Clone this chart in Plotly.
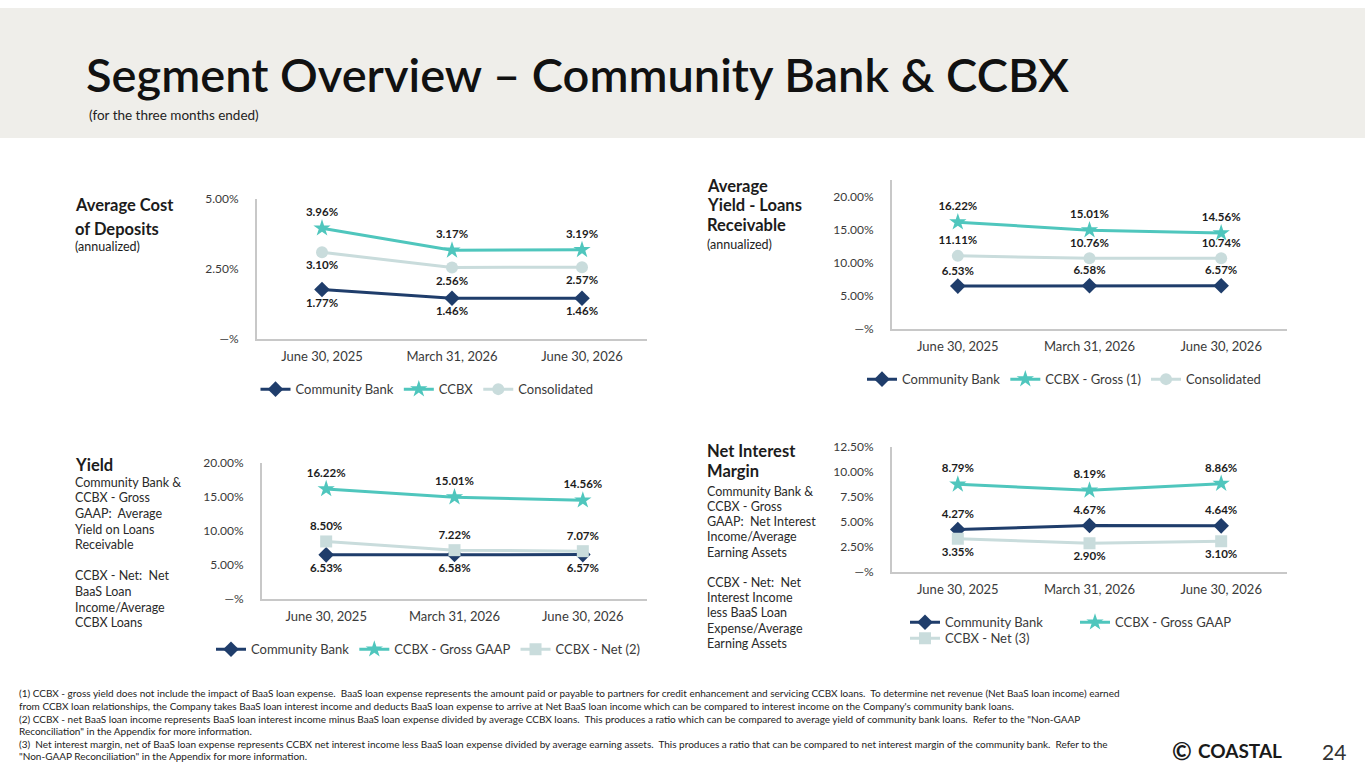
import plotly.graph_objects as go

W, H = 1365, 768
# the photographed page comes out shifted 8px down and squeezed to 98% in height;
# layout positions below are written in picture pixels and mapped back here
TOP, SQUEEZE = 8, 0.98

# ---- data ----
periods = ["June 30, 2025", "March 31, 2026", "June 30, 2026"]

cost_cb = [1.77, 1.46, 1.46]
cost_ccbx = [3.96, 3.17, 3.19]
cost_cons = [3.10, 2.56, 2.57]

loan_cb = [6.53, 6.58, 6.57]
loan_ccbx_gross = [16.22, 15.01, 14.56]
loan_cons = [11.11, 10.76, 10.74]

yield_cb = [6.53, 6.58, 6.57]
yield_ccbx_gross = [16.22, 15.01, 14.56]
yield_ccbx_net = [8.50, 7.22, 7.07]

nim_cb = [4.27, 4.67, 4.64]
nim_ccbx_gross = [8.79, 8.19, 8.86]
nim_ccbx_net = [3.35, 2.90, 3.10]

ticks_cost = [0, 2.5, 5]
ticktext_cost = ["—%", "2.50%", "5.00%"]
ticks_20 = [0, 5, 10, 15, 20]
ticktext_20 = ["—%", "5.00%", "10.00%", "15.00%", "20.00%"]
ticks_nim = [0, 2.5, 5, 7.5, 10, 12.5]
ticktext_nim = ["—%", "2.50%", "5.00%", "7.50%", "10.00%", "12.50%"]

footnotes = [
    "(1) CCBX - gross yield does not include the impact of BaaS loan expense.  BaaS loan expense represents the amount paid or payable to partners for credit enhancement and servicing CCBX loans.  To determine net revenue (Net BaaS loan income) earned",
    "from CCBX loan relationships, the Company takes BaaS loan interest income and deducts BaaS loan expense to arrive at Net BaaS loan income which can be compared to interest income on the Company's community bank loans.",
    "(2) CCBX - net BaaS loan income represents BaaS loan interest income minus BaaS loan expense divided by average CCBX loans.  This produces a ratio which can be compared to average yield of community bank loans.  Refer to the \"Non-GAAP",
    "Reconciliation\" in the Appendix for more information.",
    "(3)  Net interest margin, net of BaaS loan expense represents CCBX net interest income less BaaS loan expense divided by average earning assets.  This produces a ratio that can be compared to net interest margin of the community bank.  Refer to the",
    "\"Non-GAAP Reconciliation\" in the Appendix for more information.",
]

# ---- style ----
FONT = "Lato"
NAVY = "#1f3d6b"
TEAL = "#4fc6bd"
PALE = "#c9dcdc"
AXIS = "#c8c8c8"
TXT = "#1c1c1c"
BAND = "#efeeea"


def px(x):
    return x / W


def py(y):
    return 1 - ((y - TOP) / SQUEEZE) / H


fig = go.Figure()


def add_series(n, name, values, color, symbol, pos, legend):
    fig.add_trace(go.Scatter(
        x=periods, y=values, name=name,
        xaxis="x" if n == 1 else f"x{n}", yaxis="y" if n == 1 else f"y{n}",
        mode="lines+markers+text",
        line=dict(color=color, width=3),
        marker=dict(color=color, symbol=symbol, size=12 if symbol != "star" else 13),
        texttemplate="<b>%{y:.2f}%</b>", textposition=pos,
        textfont=dict(family=FONT, size=11.5, color=TXT),
        legend=legend, cliponaxis=False, hoverinfo="skip",
    ))


def set_axes(n, xdom, ydom, yrange, tickvals, ticktext):
    sfx = "" if n == 1 else str(n)
    fig.update_layout({
        f"xaxis{sfx}": dict(
            domain=[px(xdom[0]), px(xdom[1])], anchor=f"y{sfx}",
            type="category", range=[-0.5, 2.5],
            showline=True, linecolor=AXIS, linewidth=2, showgrid=False,
            ticks="outside", ticklen=4, tickcolor="rgba(0,0,0,0)",
            tickfont=dict(family=FONT, size=13, color="#3a3a3a"),
            fixedrange=True,
        ),
        f"yaxis{sfx}": dict(
            domain=[py(ydom[0]), py(ydom[1])], anchor=f"x{sfx}",
            range=yrange, tickvals=tickvals, ticktext=ticktext,
            showline=True, linecolor=AXIS, linewidth=2, showgrid=False,
            zeroline=False,
            ticks="outside", ticklen=14, tickcolor="rgba(0,0,0,0)",
            tickfont=dict(family=FONT, size=12, color="#3a3a3a"),
            fixedrange=True,
        ),
    })


# panel 1: average cost of deposits
set_axes(1, (257, 647), (339, 199), [0, 5], ticks_cost, ticktext_cost)
add_series(1, "Community Bank", cost_cb, NAVY, "diamond", "bottom center", "legend")
add_series(1, "CCBX", cost_ccbx, TEAL, "star", "top center", "legend")
add_series(1, "Consolidated", cost_cons, PALE, "circle", "bottom center", "legend")

# panel 2: average yield - loans receivable
set_axes(2, (892, 1287), (329, 180), [0, 22.6], ticks_20, ticktext_20)
add_series(2, "Community Bank", loan_cb, NAVY, "diamond", "top center", "legend2")
add_series(2, "CCBX - Gross (1)", loan_ccbx_gross, TEAL, "star", "top center", "legend2")
add_series(2, "Consolidated", loan_cons, PALE, "circle", "top center", "legend2")

# panel 3: yield
set_axes(3, (262, 647), (599, 463), [0, 20], ticks_20, ticktext_20)
add_series(3, "Community Bank", yield_cb, NAVY, "diamond", "bottom center", "legend3")
add_series(3, "CCBX - Gross GAAP", yield_ccbx_gross, TEAL, "star", "top center", "legend3")
add_series(3, "CCBX - Net (2)", yield_ccbx_net, PALE, "square", "top center", "legend3")

# panel 4: net interest margin
set_axes(4, (892, 1287), (572, 447), [0, 12.5], ticks_nim, ticktext_nim)
add_series(4, "Community Bank", nim_cb, NAVY, "diamond", "top center", "legend4")
add_series(4, "CCBX - Gross GAAP", nim_ccbx_gross, TEAL, "star", "top center", "legend4")
add_series(4, "CCBX - Net (3)", nim_ccbx_net, PALE, "square", "bottom center", "legend5")


def legend_box(x, y, xanchor="center", **kw):
    d = dict(orientation="h", x=px(x), y=py(y), xanchor=xanchor, yanchor="middle",
             font=dict(family=FONT, size=13, color="#3a3a3a"),
             bgcolor="rgba(0,0,0,0)", itemclick=False,
             itemdoubleclick=False, tracegroupgap=0)
    d.update(kw)
    return d


fig.update_layout(
    legend=legend_box(427, 389),
    legend2=legend_box(1064, 379),
    legend3=legend_box(428, 649),
    legend4=legend_box(905, 622, xanchor="left", entrywidth=125),
    legend5=legend_box(905, 638, xanchor="left"),
)

# ---- header band & texts ----
shapes = [dict(type="rect", xref="paper", yref="paper", x0=0, x1=1,
               y0=py(138), y1=1, fillcolor=BAND, line=dict(width=0), layer="below")]

ann = []


def text(x, y, s, size, color=TXT, weight="normal", xanchor="left", yanchor="middle"):
    ann.append(dict(xref="paper", yref="paper", x=px(x), y=py(y), text=s,
                    showarrow=False, xanchor=xanchor, yanchor=yanchor, align="left",
                    font=dict(family=FONT, size=size, color=color, weight=weight)))


text(84, 74, "Segment Overview – Community Bank & CCBX", 47, color="#111111", weight=600)
text(87, 115, "(for the three months ended)", 13.5, color="#222222")

# panel captions
text(73, 205, "<b>Average Cost</b>", 16.5)
text(73, 229, "<b>of Deposits</b>", 16.5)
text(73, 246, "(annualized)", 12.5)

text(705, 186, "<b>Average</b>", 16.5)
text(705, 205, "<b>Yield - Loans</b>", 16.5)
text(705, 225, "<b>Receivable</b>", 16.5)
text(705, 244, "(annualized)", 12.5)

text(73, 465, "<b>Yield</b>", 16.5)
yield_note = ["Community Bank &", "CCBX - Gross", "GAAP:  Average", "Yield on Loans",
              "Receivable", "", "CCBX - Net:  Net", "BaaS Loan", "Income/Average", "CCBX Loans"]
for i, line in enumerate(yield_note):
    if line:
        text(73, 482 + i * 15.6, line, 12.5, color="#2a2a2a")

text(705, 451, "<b>Net Interest</b>", 16.5)
text(705, 471, "<b>Margin</b>", 16.5)
nim_note = ["Community Bank &", "CCBX - Gross", "GAAP:  Net Interest", "Income/Average",
            "Earning Assets", "", "CCBX - Net:  Net", "Interest Income", "less BaaS Loan",
            "Expense/Average", "Earning Assets"]
for i, line in enumerate(nim_note):
    if line:
        text(705, 491 + i * 15.2, line, 12.5, color="#2a2a2a")

# footnotes
for i, line in enumerate(footnotes):
    text(17, 693 + i * 12.6, line, 10, color="#222222")

# logo + page number
text(1170, 750, "<b>©</b>", 24, color="#1a1a1a")
text(1196, 750, "<b>COASTAL</b>", 19, color="#1a1a1a")
text(1320, 751, "24", 21, color="#333333")

fig.update_layout(
    width=W, height=H, margin=dict(l=0, r=0, t=0, b=0),
    paper_bgcolor="white", plot_bgcolor="white",
    shapes=shapes, annotations=ann,
    font=dict(family=FONT, color=TXT),
    hovermode=False,
)

fig.write_html(
    "out.html",
    config={"displayModeBar": False},
    post_script="document.body.style.margin='0';document.body.style.overflow='hidden';",
)
